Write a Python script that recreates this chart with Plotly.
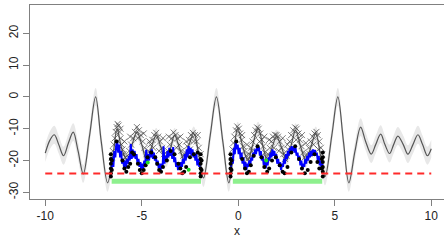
import plotly.graph_objects as go

# ---- GP mean curve ----
mean_x = [-10, -9.75, -9.53, -9.3, -9.05, -8.8, -8.55, -8.3, -8.03, -7.7, -7.39, -7.1, -6.77,
          -6.5, -6.28, -6.05, -5.75, -5.5, -5.25, -5.0, -4.75, -4.5, -4.25, -4.0, -3.75, -3.5,
          -3.3, -3.05, -2.8, -2.55, -2.3, -2.05,
          -1.8, -1.45, -1.13, -0.8, -0.49, -0.25,
          -0.03, 0.25, 0.5, 0.75, 1.03, 1.3, 1.5, 1.75, 1.98, 2.25, 2.5, 2.75, 2.97, 3.25, 3.5,
          3.75, 4.02, 4.25,
          4.5, 4.85, 5.16, 5.45, 5.73, 6.05, 6.34, 6.6, 6.89, 7.12, 7.38, 7.6, 7.84, 8.05, 8.27,
          8.55, 8.79, 9.05, 9.31, 9.55, 9.8, 10]
mean_y = [-17.7, -13.5, -11.9, -15, -18.5, -14.5, -11.1, -17, -24.2, -12, 0, -14, -27,
          -19, -10, -16, -20, -15, -11, -15, -20, -16, -12, -16, -20, -16,
          -12, -16, -20, -15, -11.5, -18,
          -25.5, -12, 0, -14, -27, -18,
          -10, -16, -20, -15, -10, -16, -20, -16, -12.5, -16, -20, -15, -10.5, -16, -20,
          -16, -11.5, -18,
          -25, -12, 0, -14, -27, -17, -9.5, -14, -18, -15, -11.7, -15, -17.8, -15, -12.3,
          -15, -18, -15, -11.9, -15, -18.5, -16.3]
band_half = [2.8] * 13 + [2.2] * 19 + [2.8] * 6 + [2.2] * 18 + [2.8] * 22

# ---- observed points (x markers) ----
obs_x = [-6.55, -6.5, -6.45, -6.4, -6.35, -6.3, -6.25, -6.2, -6.15, -6.1, -6.05, -6.0, -5.95,
         -5.85, -5.75, -5.65, -5.55, -5.45, -5.35, -5.25, -5.15, -5.05, -4.95, -4.85, -4.75,
         -4.65, -4.55, -4.45, -4.35, -4.25, -4.15, -4.05, -3.95, -3.85, -3.75, -3.65, -3.55,
         -3.45, -3.35, -3.25, -3.15, -3.05, -2.95, -2.85, -2.75, -2.65, -2.55, -2.45, -2.35,
         -2.25, -2.15, -2.05, -1.95,
         -6.1, -5.9, -5.6, -5.2, -4.9, -4.6, -4.4, -4.1, -3.9, -3.6, -3.2, -3.0, -2.7, -2.5,
         -2.3, -2.1,
         -0.35, -0.3, -0.25, -0.2, -0.12, -0.05, 0.03, 0.1, 0.18, 0.25, 0.33, 0.42, 0.5, 0.58,
         0.66, 0.74, 0.82, 0.9, 0.98, 1.06, 1.14, 1.22, 1.3, 1.38, 1.46, 1.55, 1.63, 1.72,
         1.8, 1.9, 1.98, 2.06, 2.15, 2.24, 2.33, 2.42, 2.5, 2.58, 2.66, 2.74, 2.85, 2.95,
         3.03, 3.12, 3.2, 3.28, 3.36, 3.45, 3.55, 3.65, 3.75, 3.85, 3.95, 4.05, 4.12, 4.2,
         4.28, 4.35,
         0.2, 0.45, 0.7, 1.1, 1.35, 1.6, 1.85, 2.1, 2.3, 2.55, 2.8, 3.0, 3.3, 3.5, 3.7, 3.9,
         4.15]
obs_y = [-19, -17, -15, -13, -11, -9.5, -8.5, -9, -11, -13, -15, -16.5, -18,
         -19, -18.5, -17, -15, -13, -11, -9.5, -10.5, -12, -14, -16, -18,
         -17, -15, -13.5, -12, -11.3, -12.5, -14, -16, -18, -19, -17, -15,
         -13, -11.2, -12, -13, -15, -17, -18.5, -17.5, -15.5, -13.5, -12, -11.3,
         -12, -14, -16, -18,
         -10, -14, -12.5, -13, -11.5, -14, -16, -17, -13, -12.5, -16, -12.5, -14, -16.5,
         -14, -12,
         -19, -16.5, -14.5, -12.5, -10.5, -9.3, -10, -11.5, -13.5, -15.5, -17, -18.5, -19.5, -18,
         -16, -14, -12, -10.5, -9.6, -10, -11.5, -13.5, -15.5, -17.5, -19, -18, -16, -14,
         -12.5, -11.9, -12, -12.5, -14, -16, -18, -19.5, -18.5, -16.5, -14, -12, -10.5, -9.6,
         -10, -11.5, -13.5, -15.5, -17.5, -19, -18, -16, -14, -12.5, -11.5, -11, -12, -14,
         -16, -18,
         -12, -15, -17, -14, -12.5, -13.5, -16, -17, -13, -15, -16.5, -13.5, -12, -14.5, -18, -15,
         -16.5]

# ---- blue prediction lines ----
blue1_x = [-6.58, -6.52, -6.47, -6.42, -6.37, -6.32, -6.27, -6.22, -6.17, -6.12, -6.07, -6.02,
           -5.97, -5.92, -5.87, -5.82, -5.77, -5.72, -5.67, -5.62, -5.57, -5.52,
           -5.47, -5.42, -5.37, -5.32, -5.27, -5.22, -5.17, -5.12, -5.07, -5.02,
           -4.97, -4.92, -4.87, -4.82, -4.77, -4.72, -4.67, -4.62, -4.57, -4.52,
           -4.47, -4.42, -4.37, -4.32, -4.27, -4.22, -4.17, -4.12, -4.07, -4.02,
           -3.97, -3.92, -3.87, -3.82, -3.77, -3.72, -3.67, -3.62, -3.57, -3.52,
           -3.47, -3.42, -3.37, -3.32, -3.27, -3.22, -3.17, -3.12, -3.07, -3.02,
           -2.97, -2.92, -2.87, -2.82, -2.77, -2.72, -2.67, -2.62, -2.57, -2.52,
           -2.47, -2.42, -2.37, -2.32, -2.27, -2.22, -2.17, -2.12, -2.07, -2.02, -1.97]
blue1_y = [-23, -19, -22, -17, -19, -15, -14.2, -17.5, -15, -19, -17, -21,
           -19.5, -22, -20, -22.5, -19.5, -21, -18.5, -20, -14.8, -19.5,
           -16.5, -19, -17, -19.5, -18, -21, -19.5, -22, -20.5, -23,
           -21, -22.5, -20, -21.5, -16.6, -21, -18, -20, -17, -19,
           -16.5, -19.5, -17.5, -20, -18.5, -21.5, -20, -22.5, -21, -23,
           -21, -22, -15.5, -21, -18.5, -20, -17, -19, -16, -18.5,
           -17, -19.5, -15.8, -20.5, -19, -22, -20.5, -23, -21.5, -22.5,
           -20.5, -22, -19.5, -21, -18, -20, -16.5, -19, -15.5, -18,
           -16, -18.5, -16.5, -19, -17.5, -20, -18, -21.5, -19.5, -22, -20.5]
blue2_x = [-0.38, -0.33, -0.28, -0.23, -0.18, -0.13, -0.08, -0.03, 0.02, 0.07,
           0.12, 0.17, 0.22, 0.27, 0.32, 0.37, 0.42, 0.47, 0.52, 0.57,
           0.62, 0.67, 0.72, 0.77, 0.82, 0.87, 0.92, 0.97, 1.02, 1.07,
           1.12, 1.17, 1.22, 1.27, 1.32, 1.37, 1.42, 1.47, 1.52, 1.57,
           1.62, 1.67, 1.72, 1.77, 1.82, 1.87, 1.92, 1.97, 2.02, 2.07,
           2.12, 2.17, 2.22, 2.27, 2.32, 2.37, 2.42, 2.47, 2.52, 2.57,
           2.62, 2.67, 2.72, 2.77, 2.82, 2.87, 2.92, 2.97, 3.02, 3.07,
           3.12, 3.17, 3.22, 3.27, 3.32, 3.37, 3.42, 3.47, 3.52, 3.57,
           3.62, 3.67, 3.72, 3.77, 3.82, 3.87, 3.92, 3.97, 4.02, 4.07,
           4.12, 4.17, 4.22, 4.27, 4.32, 4.37]
blue2_y = [-22, -19, -21, -16, -18, -14.2, -16.5, -15, -18, -16,
           -19.5, -17.5, -21, -19, -22.5, -20.5, -23, -21, -22, -20,
           -21.5, -19, -20, -17.5, -19, -16.5, -18, -15.5, -17, -15.8,
           -18.5, -17, -20, -18.5, -21.5, -20, -22.5, -20.5, -21.5, -19,
           -20, -17.5, -19, -16.5, -18.5, -17, -19.5, -18, -21, -19.5,
           -22, -20.5, -23, -21, -22, -19.5, -21, -18, -19.5, -17,
           -18.5, -16, -17.5, -15.5, -17, -15.7, -17.5, -16, -18.5, -17.5,
           -20, -18.5, -21.5, -20, -22.5, -21, -22, -19.5, -21, -18.5,
           -20, -17.5, -19, -17, -18.5, -16.5, -18, -16.7, -18.5, -17.5,
           -20, -18.5, -21.5, -20, -23, -21]

# ---- evaluated points (black dots) ----
dot_x = [-6.6, -6.6, -6.6, -6.6, -6.6, -6.6, -6.55, -6.55, -6.3, -6.0, -5.9, -5.8, -5.7,
         -5.6, -5.5, -5.4, -5.2, -5.1, -5.0, -4.9, -4.8, -4.7, -4.5, -4.3, -4.2, -4.1, -4.0,
         -3.9, -3.7, -3.5, -3.3, -3.1, -3.0, -2.9, -2.8, -2.7, -2.5, -2.3, -2.1,
         -1.95, -1.95, -1.95, -1.95, -1.95, -1.95, -1.9, -1.9,
         -0.4, -0.4, -0.4, -0.4, -0.4, -0.4, -0.35, -0.35,
         4.38, 4.38, 4.38, 4.38, 4.38, 4.38, 4.33, 4.33,
         -0.1, 0.2, 0.35, 0.45, 0.55, 0.65, 0.8, 1.0, 1.2, 1.35, 1.5, 1.6, 1.75, 1.95,
         2.15, 2.3, 2.4, 2.55, 2.75, 2.95, 3.15, 3.3, 3.45, 3.6, 3.75, 3.95, 4.1, 4.2]
dot_y = [-18, -19.5, -21, -22.5, -24, -25, -20, -23, -14, -20, -22.5, -23.5, -22,
         -21, -17.5, -18, -21, -23, -24, -23, -21.5, -19, -17.5, -19, -21, -23, -23.5,
         -22, -20, -17, -18, -21, -22.5, -24, -23.5, -22, -19, -18, -17.5,
         -18, -19.5, -21, -22.5, -24, -25, -20, -23,
         -18, -19.5, -21, -22.5, -24, -25, -20, -23,
         -17.5, -19, -20.5, -22, -23.5, -25, -19.5, -22.5,
         -14, -19.5, -22.5, -24, -23.5, -21.5, -18.5, -15.5, -19, -22, -23.5, -22.5, -20, -19,
         -21.5, -23.5, -24, -22, -17.5, -15.5, -19.5, -22.5, -24, -23, -20.5, -18, -20.5, -22.5]
green_dot_x = [-4.69, -2.57, 1.45]
green_dot_y = [-20.6, -22.9, -20.0]

# ---- threshold and intervals ----
thresh_x = [-10, 10]
thresh_y = [-24.1, -24.1]
interval_x = [[-6.56, -1.93], [-0.28, 4.35]]
interval_y = -26.5

band_upper = [m + h for m, h in zip(mean_y, band_half)]
band_lower = [m - h for m, h in zip(mean_y, band_half)]

fig = go.Figure()
fig.add_trace(go.Scatter(x=mean_x, y=band_lower, mode="lines",
                         line=dict(width=0, shape="spline", color="rgba(0,0,0,0)"),
                         hoverinfo="skip"))
fig.add_trace(go.Scatter(x=mean_x, y=band_upper, mode="lines", fill="tonexty",
                         fillcolor="#e8e8e8",
                         line=dict(width=0, shape="spline", color="rgba(0,0,0,0)"),
                         hoverinfo="skip"))
fig.add_trace(go.Scatter(x=mean_x, y=mean_y, mode="lines",
                         line=dict(color="#555555", width=1.2, shape="spline")))
fig.add_trace(go.Scatter(x=obs_x, y=obs_y, mode="markers",
                         marker=dict(symbol="x-thin-open", size=6, color="#444444",
                                     line=dict(width=0.7, color="#444444"))))
for bx, by in [(blue1_x, blue1_y), (blue2_x, blue2_y)]:
    fig.add_trace(go.Scatter(x=bx, y=by, mode="lines",
                             line=dict(color="#0000ff", width=2)))
fig.add_trace(go.Scatter(x=dot_x, y=dot_y, mode="markers",
                         marker=dict(symbol="circle", size=4, color="black")))
fig.add_trace(go.Scatter(x=green_dot_x, y=green_dot_y, mode="markers",
                         marker=dict(symbol="circle", size=4, color="#22dd22")))
fig.add_trace(go.Scatter(x=thresh_x, y=thresh_y, mode="lines",
                         line=dict(color="#ff2a2a", width=2, dash="7px,5px")))
for ix in interval_x:
    fig.add_trace(go.Scatter(x=ix, y=[interval_y, interval_y], mode="lines",
                             line=dict(color="#8ef08e", width=5)))

axis_font = dict(family="Liberation Sans, Arial, sans-serif", size=12, color="#222222")
fig.update_layout(
    width=444, height=246,
    margin=dict(l=30, r=0, t=5, b=47),
    paper_bgcolor="white", plot_bgcolor="white",
    showlegend=False,
    font=axis_font,
    xaxis=dict(range=[-10.79, 10.66], tickvals=[-10, -5, 0, 5, 10],
               ticktext=["-10", "-5", "0", "5", "10"], automargin=False,
               showgrid=False, zeroline=False, showline=True, mirror=True,
               linecolor="#808080", linewidth=1, ticks="outside", ticklen=6,
               tickcolor="#808080", tickfont=axis_font,
               title=dict(text="x", font=axis_font, standoff=4)),
    yaxis=dict(range=[-32.1, 28.9], tickvals=[-30, -20, -10, 0, 10, 20],
               ticktext=["-30", "-20", "-10", "0", "10", "20"], automargin=False,
               showgrid=False, zeroline=False, showline=True, mirror=False,
               linecolor="#808080", linewidth=1, ticks="outside", ticklen=6,
               tickcolor="#808080", tickfont=axis_font, tickangle=-90),
)
fig.write_html("out.html", config={"displayModeBar": False},
               post_script="document.body.style.margin='0';document.body.style.padding='0';"
                           "document.body.style.overflow='hidden';")
